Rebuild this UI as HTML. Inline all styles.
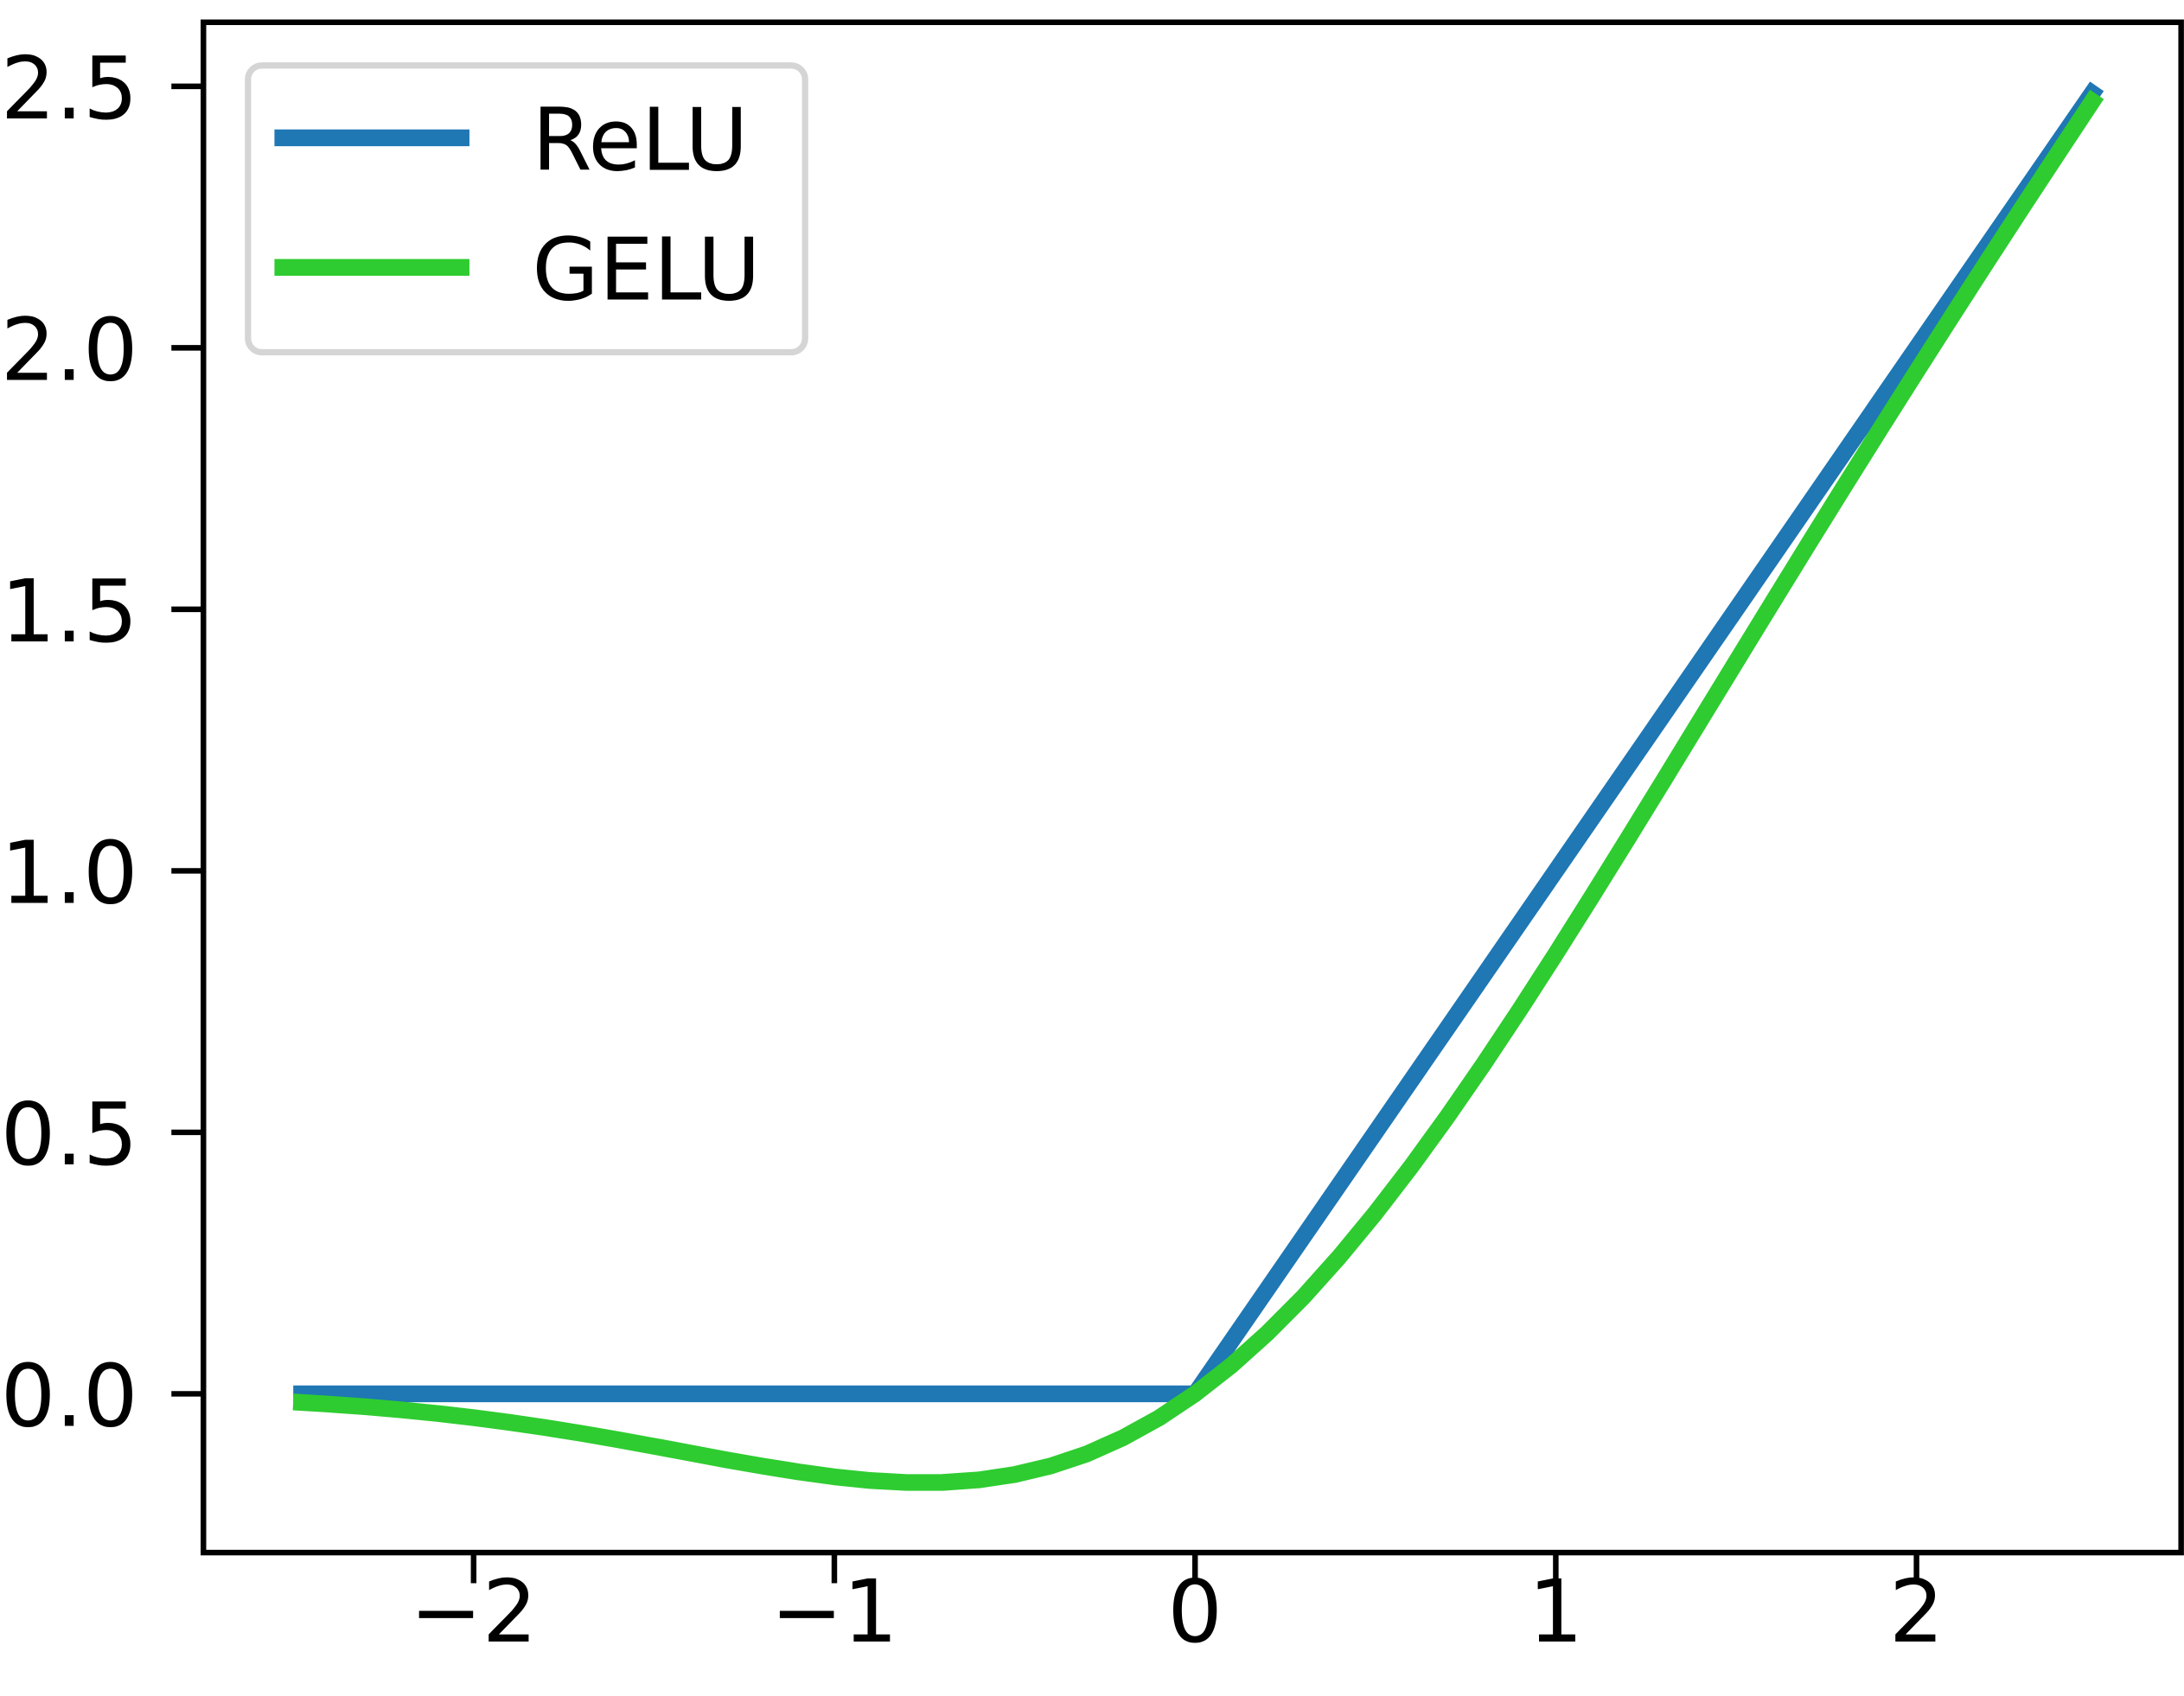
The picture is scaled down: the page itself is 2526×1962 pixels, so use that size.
<!DOCTYPE html>
<html><head><meta charset="utf-8"><style>html,body{margin:0;padding:0;background:#fff}svg{display:block}</style></head>
<body>
<svg id="chart" width="2526" height="1962" viewBox="0 0 1568 1218" xmlns="http://www.w3.org/2000/svg" font-family="DejaVu Sans, Liberation Sans, sans-serif">
<rect width="1568" height="1218" fill="#fff"/>
<g id="plot"></g>
</svg>
<script>
const xTicks = [-2, -1, 0, 1, 2];
const xTickLabels = ["\u22122", "\u22121", "0", "1", "2"];
const yTicks = [0, 0.5, 1, 1.5, 2, 2.5];
const yTickLabels = ["0.0", "0.5", "1.0", "1.5", "2.0", "2.5"];
const reluX = [-2.5, 0, 2.5];
const reluY = [0, 0, 2.5];
const geluX = [-2.5,-2.4,-2.3,-2.2,-2.1,-2.0,-1.9,-1.8,-1.7,-1.6,-1.5,-1.4,-1.3,-1.2,-1.1,-1.0,-0.9,-0.8,-0.7,-0.6,-0.5,-0.4,-0.3,-0.2,-0.1,0,0.1,0.2,0.3,0.4,0.5,0.6,0.7,0.8,0.9,1.0,1.1,1.2,1.3,1.4,1.5,1.6,1.7,1.8,1.9,2.0,2.1,2.2,2.3,2.4,2.5];
const geluY = [-0.0155,-0.0197,-0.0246,-0.0306,-0.0376,-0.0455,-0.0546,-0.0647,-0.0757,-0.0877,-0.1002,-0.1131,-0.1260,-0.1381,-0.1492,-0.1587,-0.1657,-0.1695,-0.1694,-0.1646,-0.1543,-0.1379,-0.1148,-0.0841,-0.0460,0,0.0540,0.1159,0.1852,0.2621,0.3457,0.4354,0.5306,0.6305,0.7343,0.8413,0.9508,1.0619,1.1740,1.2869,1.3998,1.5123,1.6243,1.7353,1.8454,1.9545,2.0624,2.1694,2.2754,2.3803,2.4845];

const NS = "http://www.w3.org/2000/svg";
const g = document.getElementById('plot');
const L = 146, T = 16, R = 1566, B = 1115;
const sx = v => 858 + v * 259;
const sy = v => 1001 - v * 375.6;
function mk(tag, attrs, parent) {
  const e = document.createElementNS(NS, tag);
  for (const k in attrs) e.setAttribute(k, attrs[k]);
  (parent || g).appendChild(e);
  return e;
}
function line(xs, ys, color, name) {
  const d = xs.map((x, i) => (i ? 'L' : 'M') + sx(x).toFixed(2) + ' ' + sy(ys[i]).toFixed(2)).join(' ');
  const p = mk('path', {d: d, fill: 'none', stroke: color, 'stroke-width': 12, 'stroke-linejoin': 'round'});
  
  
}
line(reluX, reluY, '#1f77b4', 'relu-line');
line(geluX, geluY, '#2ecc30', 'gelu-line');

const frame = mk('rect', {x: L, y: T, width: R - L, height: B - T, fill: 'none', stroke: '#000', 'stroke-width': 4});



xTicks.forEach((v, i) => {
  const t = mk('line', {x1: sx(v), x2: sx(v), y1: B, y2: B + 22, stroke: '#000', 'stroke-width': 4});
  
  
  const tx = mk('text', {x: sx(v), y: 1179, 'text-anchor': 'middle', 'font-size': 62, fill: '#000'});
  tx.textContent = xTickLabels[i];
  
  
});
yTicks.forEach((v, i) => {
  const t = mk('line', {x1: L - 23, x2: L, y1: sy(v), y2: sy(v), stroke: '#000', 'stroke-width': 4});
  
  
  const tx = mk('text', {x: 99, y: sy(v) + 23, 'text-anchor': 'end', 'font-size': 62, fill: '#000'});
  tx.textContent = yTickLabels[i];
  
  
});

const lg = mk('g', {});


mk('rect', {x: 178, y: 47, width: 400, height: 206, rx: 10, fill: '#fff', stroke: '#d5d5d5', 'stroke-width': 4.5}, lg);
const entries = [['ReLU', '#1f77b4', 99], ['GELU', '#2ecc30', 192]];
entries.forEach(e => {
  const ent = mk('g', {}, lg);
  
  
  mk('line', {x1: 197, x2: 337, y1: e[2], y2: e[2], stroke: e[1], 'stroke-width': 12}, ent);
  const t = mk('text', {x: 382, y: e[2] + 23, 'font-size': 62, fill: '#000'}, ent);
  t.textContent = e[0];
});
</script>
</body></html>
